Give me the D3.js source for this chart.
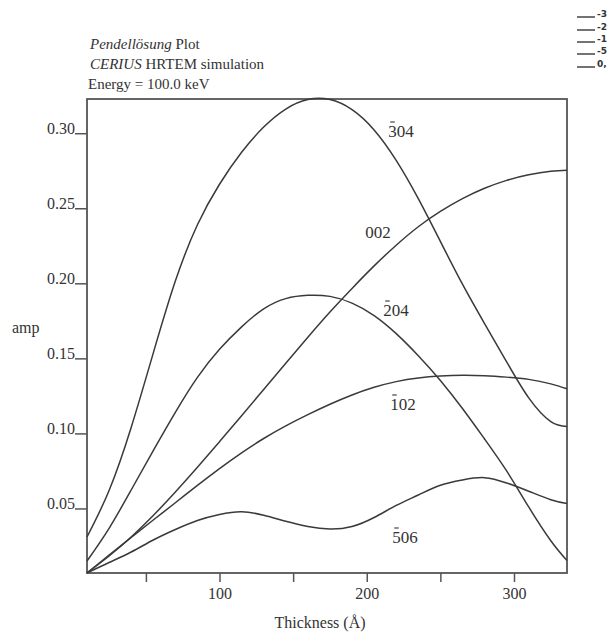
<!doctype html>
<html>
<head>
    <meta charset="utf-8">
    <script src="https://d3js.org/d3.v7.min.js"></script>
    <style>
        body { margin: 0; background: #fff; }
        text { font-family: "Liberation Serif", "Times New Roman", serif; fill: #333; }
    </style>
</head>
<body>
    <script>
        // thickness in Angstrom, amplitude per reflection
        let thickness = [10, 25, 40, 55, 70, 85, 100, 115, 130, 145, 160, 175, 190, 205, 220, 235, 250, 265, 280, 295, 310, 325, 336];
        let amp304 = [0.031, 0.062, 0.104, 0.1535, 0.2015, 0.239, 0.266, 0.2873, 0.3041, 0.3161, 0.3224, 0.3224, 0.3157, 0.3022, 0.2819, 0.2564, 0.2279, 0.1994, 0.1732, 0.1477, 0.1237, 0.1079, 0.1046];
        let amp204 = [0.015, 0.0368, 0.0623, 0.0885, 0.114, 0.1373, 0.156, 0.171, 0.183, 0.1898, 0.192, 0.1913, 0.1868, 0.1785, 0.1665, 0.1518, 0.1353, 0.1166, 0.0963, 0.075, 0.051, 0.0285, 0.0153];
        let amp002 = [0.007, 0.0183, 0.031, 0.0453, 0.061, 0.0775, 0.0945, 0.1117, 0.1293, 0.1468, 0.1641, 0.1809, 0.1966, 0.2116, 0.2254, 0.2377, 0.2479, 0.2564, 0.2633, 0.2686, 0.2723, 0.2746, 0.2753];
        let amp102 = [0.007, 0.019, 0.0307, 0.0423, 0.0538, 0.0654, 0.0766, 0.0871, 0.0966, 0.105, 0.1125, 0.1194, 0.1256, 0.1307, 0.1345, 0.1369, 0.1382, 0.1387, 0.1384, 0.1375, 0.136, 0.133, 0.1297];
        let amp506 = [0.007, 0.014, 0.021, 0.029, 0.036, 0.042, 0.046, 0.0478, 0.0455, 0.0415, 0.038, 0.0363, 0.038, 0.044, 0.052, 0.059, 0.0655, 0.069, 0.0705, 0.067, 0.0615, 0.0558, 0.0533];

        // reflection labels: first digit carries an overbar except for 002
        let curveLabels = ["304", "002", "204", "102", "506"];
        let labelBar = [true, false, true, true, true];
        let legendNames = ["-3", "-2", "-1", "-5", "0,"];
        let xTicks = [50, 100, 150, 200, 250, 300];
        let yTicks = [0.05, 0.10, 0.15, 0.20, 0.25, 0.30];

        let svg = d3.select("body").append("svg")
                    .attr("width", 611).attr("height", 635);

        let x = d3.scaleLinear().domain([10, 336]).range([87, 567]);
        let y = d3.scaleLinear().domain([0.007, 0.3228]).range([573, 99]);

        // title block
        let title = svg.append("g").style("font-size", "15px");
        let t1 = title.append("text").attr("x", 90).attr("y", 49);
        t1.append("tspan").style("font-style", "italic").text("Pendellösung");
        t1.append("tspan").text(" Plot");
        let t2 = title.append("text").attr("x", 90).attr("y", 69);
        t2.append("tspan").style("font-style", "italic").text("CERIUS");
        t2.append("tspan").text(" HRTEM simulation");
        title.append("text").attr("x", 88).attr("y", 89).text("Energy = 100.0 keV");

        // axes
        let xAxis = svg.append("g").attr("transform", "translate(0,573)")
            .call(d3.axisBottom(x).tickValues(xTicks).tickSize(9).tickPadding(6)
                .tickFormat(function(d){ return d % 100 === 0 ? d : ""; }));
        xAxis.select(".domain").remove();
        xAxis.selectAll("line").attr("stroke", "#555").attr("stroke-width", 1.5);
        xAxis.selectAll("text").attr("fill", "#333").style("font-size", "16px")
            .style("font-family", "Liberation Serif, serif");

        let yAxis = svg.append("g").attr("transform", "translate(87,0)")
            .call(d3.axisLeft(y).tickValues(yTicks).tickSize(12).tickPadding(0).tickFormat(d3.format(".2f")));
        yAxis.select(".domain").remove();
        yAxis.selectAll("line").attr("stroke", "#555").attr("stroke-width", 1.5);
        yAxis.selectAll("text").attr("fill", "#333").attr("dy", 0).style("font-size", "16px")
            .style("font-family", "Liberation Serif, serif");

        // frame
        svg.append("rect")
            .attr("x", x(10)).attr("y", y(0.3228))
            .attr("width", x(336) - x(10)).attr("height", y(0.007) - y(0.3228))
            .attr("fill", "none").attr("stroke", "#555").attr("stroke-width", 1.8);

        svg.append("text").attr("x", 12).attr("y", 333).style("font-size", "16px").text("amp");
        svg.append("text").attr("x", 320).attr("y", 628).attr("text-anchor", "middle")
            .style("font-size", "16px").text("Thickness (Å)");

        // curves
        let allSeries = [amp304, amp204, amp102, amp506, amp002];
        let line = d3.line()
            .x(function(d, i){ return x(thickness[i]); })
            .y(function(d){ return y(d); })
            .curve(d3.curveNatural);
        svg.selectAll("path.curve").data(allSeries).enter().append("path")
            .attr("class", "curve")
            .attr("d", line)
            .attr("fill", "none").attr("stroke", "#3a3a3a").attr("stroke-width", 1.5);

        // curve labels, with the bar over the first digit
        let labelPos = [[401, 137], [378, 238], [396, 316], [403, 410], [405, 543]];
        let labels = svg.selectAll("text.lab").data(curveLabels).enter().append("text")
            .attr("class", "lab")
            .attr("x", function(d, i){ return labelPos[i][0]; })
            .attr("y", function(d, i){ return labelPos[i][1]; })
            .attr("text-anchor", "middle")
            .style("font-size", "17px")
            .text(function(d){ return d; });
        labels.each(function(d, i){
            if (!labelBar[i]) return;
            let box = this.getExtentOfChar(0);
            svg.append("line")
                .attr("x1", box.x + 2).attr("x2", box.x + box.width - 2)
                .attr("y1", labelPos[i][1] - 15).attr("y2", labelPos[i][1] - 15)
                .attr("stroke", "#444").attr("stroke-width", 1.2);
        });

        // legend in the top right corner, running off the page
        let legendY = [17, 30, 42, 54, 67];
        let legend = svg.append("g");
        legend.selectAll("line").data(legendNames).enter().append("line")
            .attr("x1", 577).attr("x2", 595)
            .attr("y1", function(d, i){ return legendY[i]; })
            .attr("y2", function(d, i){ return legendY[i]; })
            .attr("stroke", "#444").attr("stroke-width", 1.5);
        legend.selectAll("text").data(legendNames).enter().append("text")
            .attr("x", 597)
            .attr("y", function(d, i){ return legendY[i]; })
            .style("font-family", "DejaVu Sans, sans-serif")
            .style("font-weight", "bold")
            .style("font-size", "9px")
            .text(function(d){ return d; });
    </script>
</body>
</html>
